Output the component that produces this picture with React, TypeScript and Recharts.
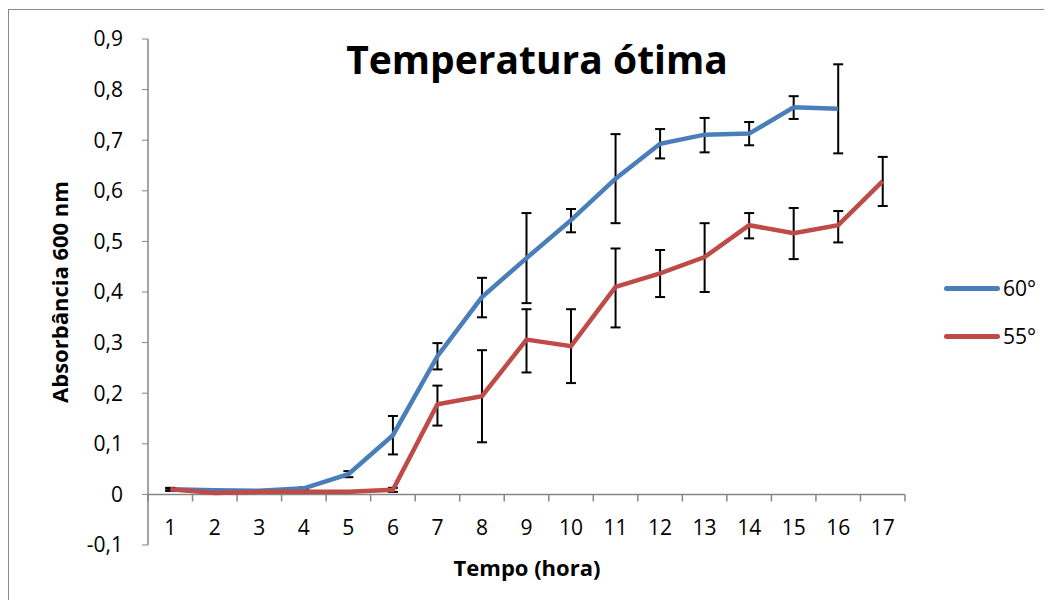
import {
  LineChart,
  Line,
  XAxis,
  YAxis,
  ErrorBar,
  ReferenceLine,
} from 'recharts';

const hours = [1, 2, 3, 4, 5, 6, 7, 8, 9, 10, 11, 12, 13, 14, 15, 16, 17];

// 60° series: mean, lower and upper end of the error bar
const mean60 = [0.01, 0.008, 0.007, 0.012, 0.04, 0.117, 0.273, 0.39, 0.467, 0.542, 0.624, 0.693, 0.711, 0.713, 0.765, 0.762, null];
const low60 = [0.008, 0.007, 0.006, 0.01, 0.034, 0.079, 0.247, 0.35, 0.378, 0.518, 0.536, 0.664, 0.676, 0.69, 0.742, 0.674, null];
const high60 = [0.012, 0.009, 0.008, 0.014, 0.046, 0.155, 0.299, 0.428, 0.556, 0.564, 0.712, 0.722, 0.744, 0.736, 0.787, 0.85, null];

// 55° series
const mean55 = [0.01, 0.003, 0.005, 0.005, 0.005, 0.009, 0.178, 0.194, 0.306, 0.293, 0.41, 0.437, 0.469, 0.532, 0.516, 0.532, 0.619];
const low55 = [0.007, 0.002, 0.004, 0.004, 0.004, 0.005, 0.136, 0.103, 0.241, 0.22, 0.33, 0.39, 0.4, 0.506, 0.465, 0.498, 0.57];
const high55 = [0.013, 0.004, 0.006, 0.006, 0.006, 0.013, 0.215, 0.285, 0.366, 0.366, 0.486, 0.483, 0.536, 0.556, 0.566, 0.56, 0.667];

const yTicks = [-0.1, 0, 0.1, 0.2, 0.3, 0.4, 0.5, 0.6, 0.7, 0.8, 0.9];

const BLUE = '#4A7EBB';
const RED = '#BE4B48';
const AXIS = '#868686';
const FONT = '"Open Sans", sans-serif';

const data = hours.map((h, i) => ({
  hour: h,
  t60: mean60[i],
  e60: mean60[i] == null ? undefined : [mean60[i]! - low60[i]!, high60[i]! - mean60[i]!],
  t55: mean55[i],
  e55: [mean55[i]! - low55[i]!, high55[i]! - mean55[i]!],
}));

// tick marks on the category boundaries (Excel "between tick marks")
const boundaries = [...hours.map((h) => h - 0.5), hours[hours.length - 1]! + 0.5];

const legendItems = [
  { label: '60°', color: BLUE },
  { label: '55°', color: RED },
];

function XTick(props: any) {
  const { x, y, payload } = props;
  return (
    <text
      x={x}
      y={y - 18}
      textAnchor="middle"
      dominantBaseline="central"
      fontSize={21}
      fontFamily={FONT}
      fill="#000"
    >
      {payload.value}
    </text>
  );
}

function LegendBox() {
  return (
    <div
      style={{
        position: 'absolute',
        left: '936px',
        top: '269px',
        display: 'flex',
        flexDirection: 'column',
        gap: '26px',
      }}
    >
      {legendItems.map((it) => (
        <div key={it.label} style={{ display: 'flex', alignItems: 'center', height: '22px' }}>
          <div
            style={{
              width: '56px',
              height: '5px',
              borderRadius: '3px',
              background: it.color,
              marginRight: '3px',
            }}
          />
          <span style={{ fontFamily: FONT, fontSize: '21px', color: '#000' }}>{it.label}</span>
        </div>
      ))}
    </div>
  );
}

export default function App() {
  return (
    <div style={{ position: 'relative', width: '1036px', height: '592px', fontFamily: FONT }}>
      {/* outer chart border (only top/left visible in the crop) */}
      <div
        style={{
          position: 'absolute',
          left: 0,
          top: 1,
          right: -20,
          bottom: -20,
          borderTop: '1px solid #888',
          borderLeft: '1px solid #888',
          pointerEvents: 'none',
        }}
      />
      {/* Title */}
      <div
        style={{
          position: 'absolute',
          left: 0,
          width: '1058px',
          top: '28px',
          textAlign: 'center',
          fontSize: '39px',
          fontWeight: 700,
          lineHeight: '46px',
        }}
      >
        Temperatura ótima
      </div>
      {/* Y axis title */}
      <div
        style={{
          position: 'absolute',
          left: '51px',
          top: '284px',
          transform: 'translate(-50%, -50%) rotate(-90deg)',
          whiteSpace: 'nowrap',
          fontSize: '22px',
          fontWeight: 700,
        }}
      >
        Absorbância 600 nm
      </div>
      {/* X axis title */}
      <div
        style={{
          position: 'absolute',
          left: '519px',
          top: '559px',
          transform: 'translate(-50%, -50%)',
          whiteSpace: 'nowrap',
          fontSize: '22px',
          fontWeight: 700,
        }}
      >
        Tempo (hora)
      </div>
      <LegendBox />

      <LineChart
        width={1036}
        height={592}
        data={data}
        margin={{ top: 31, right: 139, bottom: 25, left: 40 }}
      >
        <XAxis
          type="number"
          dataKey="hour"
          domain={[0.5, 17.5]}
          ticks={hours}
          axisLine={false}
          tickLine={false}
          tickSize={0}
          tickMargin={0}
          height={30}
          tick={<XTick />}
          interval={0}
        />
        <YAxis
          domain={[-0.1, 0.9]}
          ticks={yTicks}
          width={100}
          allowDataOverflow
          stroke={AXIS}
          tickLine={{ stroke: AXIS }}
          axisLine={{ stroke: AXIS, strokeWidth: 1.5 }}
          tickSize={6}
          tickMargin={19}
          tick={{ fill: '#000', fontSize: 21, fontFamily: FONT }}
          tickFormatter={(v: number) => (v === 0 ? '0' : v.toFixed(1).replace('.', ','))}
          interval={0}
        />
        <ReferenceLine y={0} stroke={AXIS} strokeWidth={1.5} />
        {boundaries.map((b) => (
          <ReferenceLine
            key={b}
            segment={[
              { x: b, y: 0 },
              { x: b, y: -0.014 },
            ]}
            stroke={AXIS}
            strokeWidth={1.5}
          />
        ))}
        <Line
          dataKey="t60"
          stroke={BLUE}
          strokeWidth={4.5}
          dot={false}
          isAnimationActive={false}
          connectNulls={false}
        >
          <ErrorBar dataKey="e60" width={5} strokeWidth={2} stroke="#000" direction="y" />
        </Line>
        <Line
          dataKey="t55"
          stroke={RED}
          strokeWidth={4.5}
          dot={false}
          isAnimationActive={false}
        >
          <ErrorBar dataKey="e55" width={5} strokeWidth={2} stroke="#000" direction="y" />
        </Line>
      </LineChart>
    </div>
  );
}
